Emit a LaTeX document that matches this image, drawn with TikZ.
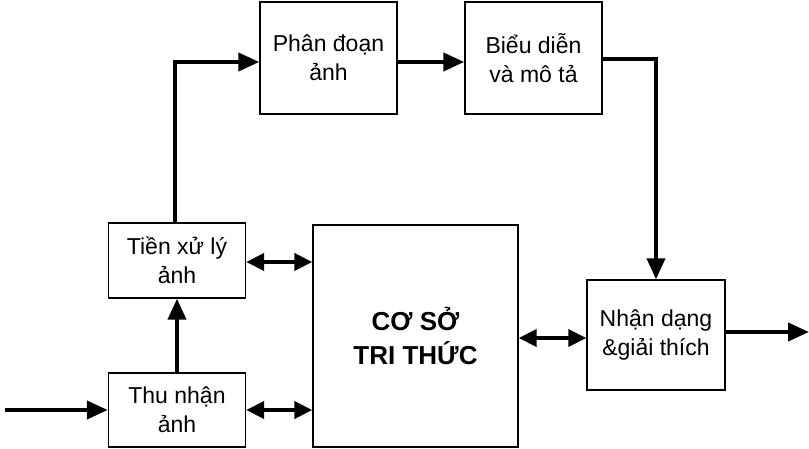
\documentclass[tikz,border=0pt]{standalone}
\usepackage{fontspec}
\setmainfont{Liberation Sans}
\usetikzlibrary{arrows.meta}
\begin{document}
\begin{tikzpicture}[x=1pt,y=-1pt,
  box/.style={draw,line width=1.4pt,inner sep=0pt,align=center,font=\fontsize{23}{29}\selectfont},
  flow/.style={line width=4pt,-{Triangle[length=21pt,width=18pt]}},
  both/.style={line width=4pt,{Triangle[length=18pt,width=17pt]}-{Triangle[length=18pt,width=17pt]}}]
\useasboundingbox (0,0) rectangle (809,449);
\node[box,minimum width=137pt,minimum height=112pt] (seg) at (328.5,58) {Phân đoạn\\ảnh};
\node[box,minimum width=137pt,minimum height=112pt] (rep) at (533.5,58) {Biểu diễn\\và mô tả};
\node[box,minimum width=137pt,minimum height=75pt] (pre) at (177,260.5) {Tiền xử lý\\ảnh};
\node[box,minimum width=137pt,minimum height=74pt] (acq) at (177,410) {Thu nhận\\ảnh};
\node[box,minimum width=205pt,minimum height=222pt,font=\fontsize{26}{34}\selectfont\bfseries] (kb) at (415.5,336) {CƠ SỞ\\TRI THỨC};
\node[box,minimum width=138pt,minimum height=110pt] (rec) at (656,335) {Nhận dạng\\\&giải thích};
\coordinate (in) at (5,410);
\coordinate (out) at (809,332);
\draw[flow] (in) -- (acq.west);
\draw[flow] (acq.north) -- (pre.south);
\draw[flow] (pre.north -| 175,0) |- (seg.west |- 0,62);
\draw[flow] (seg.east |- 0,62) -- (rep.west |- 0,62);
\draw[flow] (rep.east |- 0,59) -| (rec.north);
\draw[flow] (rec.east |- out) -- (out);
\draw[both] (pre.east |- 0,262) -- (kb.west |- 0,262);
\draw[both] (acq.east) -- (kb.west |- acq.east);
\draw[both] (kb.east |- 0,338) -- (rec.west |- 0,338);
\end{tikzpicture}
\end{document}
